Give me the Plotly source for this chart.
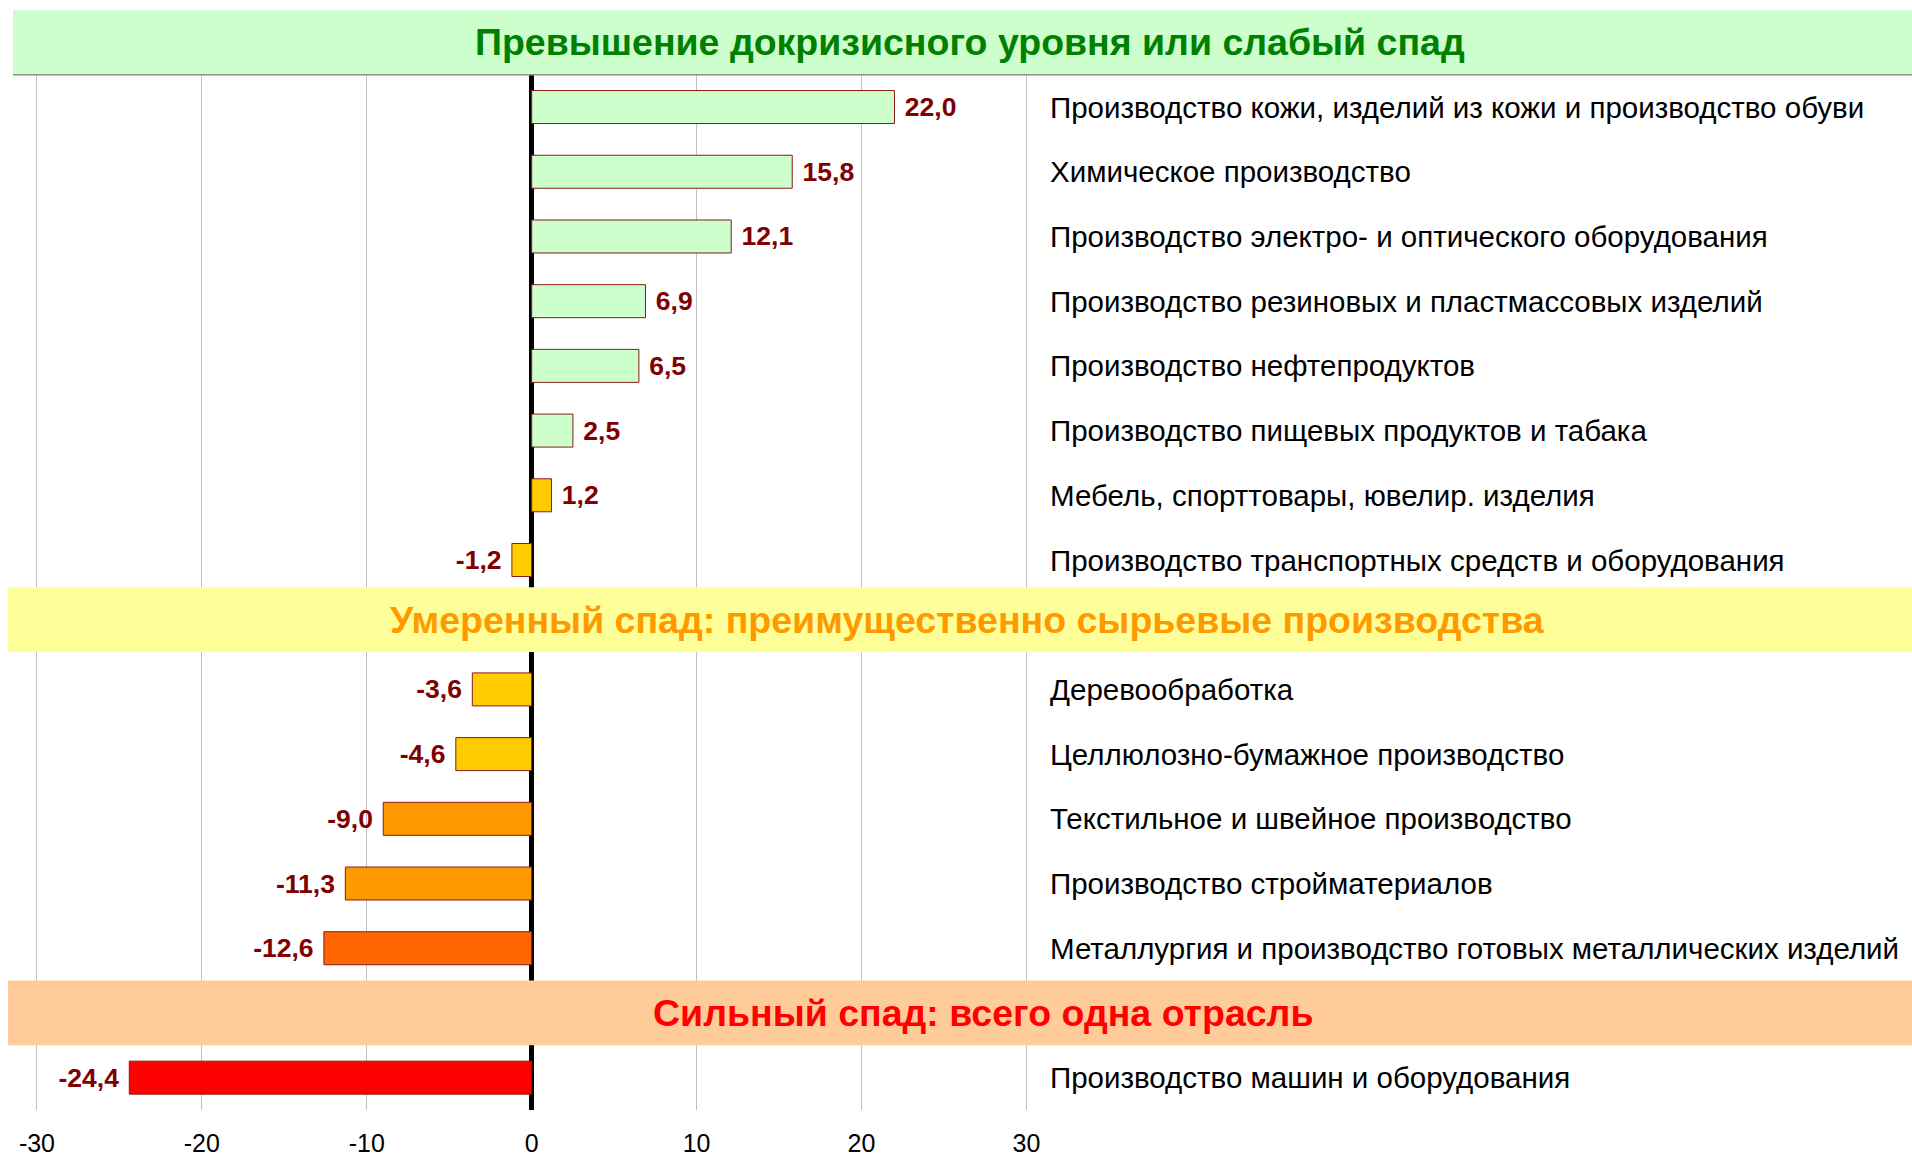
import plotly.graph_objects as go

# ---- data ----
section_titles = [
    "Превышение докризисного уровня или слабый спад",
    "Умеренный спад: преимущественно сырьевые производства",
    "Сильный спад: всего одна отрасль",
]
section_sizes = [8, 5, 1]

categories = [
    "Производство кожи, изделий из кожи и производство обуви",
    "Химическое производство",
    "Производство электро- и оптического оборудования",
    "Производство резиновых и пластмассовых изделий",
    "Производство нефтепродуктов",
    "Производство пищевых продуктов и табака",
    "Мебель, спорттовары, ювелир. изделия",
    "Производство транспортных средств и оборудования",
    "Деревообработка",
    "Целлюлозно-бумажное производство",
    "Текстильное и швейное производство",
    "Производство стройматериалов",
    "Металлургия и производство готовых металлических изделий",
    "Производство машин и оборудования",
]
values = [22.0, 15.8, 12.1, 6.9, 6.5, 2.5, 1.2, -1.2, -3.6, -4.6, -9.0, -11.3, -12.6, -24.4]

tick_values = [-30, -20, -10, 0, 10, 20, 30]

# ---- styles ----
bar_colors = ["#CCFFCC"] * 6 + ["#FFCC00"] * 4 + ["#FF9900", "#FF9900", "#FF6600", "#FF0000"]
band_fill = ["#CCFFCC", "#FFFF99", "#FFCC99"]
band_text = ["#008000", "#FF9900", "#FF0000"]
band_left_px = [13, 8, 8]
band_center_px = [970, 967, 983]
band_shift = [0.0, -0.08, 0.0]

W, H = 1912, 1159
FONT = "Liberation Sans, Arial, sans-serif"
NBSP = "\u00a0"

# slot positions: each section header takes one slot, followed by its rows
header_slots, row_slots = [], []
s = 0
for n in section_sizes:
    header_slots.append(s)
    s += 1
    for _ in range(n):
        row_slots.append(s)
        s += 1
n_slots = s

labels = []
for v in values:
    t = f"{v:.1f}".replace(".", ",")
    labels.append(NBSP + t if v >= 0 else t + NBSP)

fig = go.Figure()
fig.add_trace(go.Bar(
    x=values, y=row_slots, orientation="h", width=0.51,
    marker=dict(color=bar_colors, line=dict(color="#8B1A1A", width=1)),
    text=labels, textposition="outside", cliponaxis=False,
    textfont=dict(family=FONT, size=26.5, color="#800000", weight="bold"),
    hoverinfo="skip",
))

shapes = []
annotations = []
for i, (t, hs) in enumerate(zip(section_titles, header_slots)):
    yc = hs + band_shift[i]
    shapes.append(dict(type="rect", xref="paper", yref="y", x0=band_left_px[i] / W, x1=1,
                       y0=yc - 0.5, y1=yc + 0.5, fillcolor=band_fill[i], line=dict(width=0),
                       layer="above"))
    annotations.append(dict(xref="paper", yref="y", x=band_center_px[i] / W, y=yc, text=t,
                            showarrow=False, xanchor="center", yanchor="middle",
                            font=dict(family=FONT, size=37.5, color=band_text[i], weight="bold")))
# gray lines on the top band
for yy in (header_slots[0] - 0.52, header_slots[0] + 0.5):
    shapes.append(dict(type="line", xref="paper", yref="y", x0=band_left_px[0] / W, x1=1,
                       y0=yy, y1=yy, line=dict(color="#909090", width=1.5), layer="above"))

for c, rs in zip(categories, row_slots):
    annotations.append(dict(xref="x", yref="y", x=31.3, y=rs, text=c, showarrow=False,
                            xanchor="left", yanchor="middle",
                            font=dict(family=FONT, size=29.5, color="black")))

fig.update_layout(
    width=W, height=H,
    margin=dict(l=0, r=0, t=10, b=49, autoexpand=False),
    plot_bgcolor="white", paper_bgcolor="white",
    showlegend=False,
    shapes=shapes, annotations=annotations,
    xaxis=dict(range=[-32.24, 83.7], tickvals=tick_values, ticktext=[str(v) for v in tick_values],
               showgrid=True, gridcolor="#C0C0C0", gridwidth=1,
               zeroline=True, zerolinecolor="black", zerolinewidth=4.5,
               ticks="outside", ticklen=11, tickcolor="rgba(0,0,0,0)", automargin=False,
               tickfont=dict(family=FONT, size=25, color="black"), showline=False, fixedrange=True),
    yaxis=dict(range=[n_slots - 0.5, -0.5], showticklabels=False, showgrid=False, automargin=False,
               zeroline=False, showline=False, ticks="", fixedrange=True),
)

fig.write_html("out.html", config={"displayModeBar": False},
               post_script="document.body.style.margin='0';document.body.style.overflow='hidden';")
